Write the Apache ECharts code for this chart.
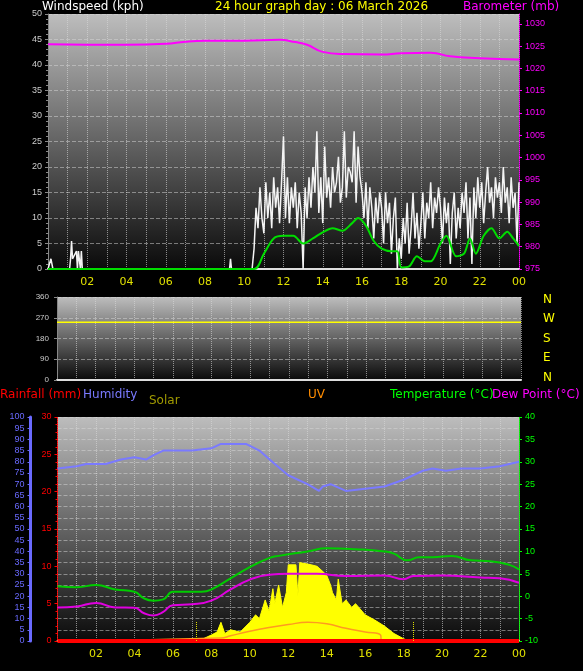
<!DOCTYPE html>
<html>
<head>
<meta charset="utf-8">
<script src="https://cdn.jsdelivr.net/npm/echarts@6/dist/echarts.min.js"></script>
<style>html,body{margin:0;background:#000}#c{width:583px;height:671px}</style>
</head>
<body>
<div id="c"></div>
<script>
// hours of day, wind gusts (kph)
var gustEarlyT = [0, 0.15, 0.2, 0.25, 1.1, 1.15, 1.2, 1.25, 1.3, 1.35, 1.45, 1.5, 1.55, 1.65, 1.7, 1.75, 9.25, 9.3, 9.35, 10.4]
var gustEarlyV = [0, 2, 2, 0, 0, 2, 5.5, 2, 2, 2, 3.5, 0, 3.5, 0, 3.5, 0, 0, 2, 0, 0]
var gustStart = 10.5
var gustStep = 0.1
var gustV = [4,12,8,16,10,
  7,17,10,15,8,18,12,16,9,17,
  26,10,18,9,16,12,17,8,15,11,
  0,16,10,18,12,20,15,27,11,18,
  9,24,14,18,12,20,15,17,22,13,
  16,27,14,20,19,17,27,13,24,18,
  15,10,17,8,16,12,6,14,9,15,
  12,5,15,9,13,3,10,14,0,6,
  2,10,5,13,3,8,15,6,11,4,
  9,15,6,13,10,17,8,14,11,16,
  12,5,14,9,13,1,11,15,6,12,
  8,15,11,17,6,14,1,16,10,18,
  12,17,9,15,20,13,16,10,18,14,
  17,11,20,13,16,9,18,12,15,5,
  17]
var windAvgT = [0, 10.5, 11, 11.5, 12, 12.5, 13, 13.5, 14, 14.5, 15, 15.5, 15.8, 16.2, 16.6, 17, 17.5, 17.8, 18, 18.4, 18.8, 19.2, 19.5, 20, 20.3, 20.8, 21.2, 21.5, 21.8, 22.2, 22.6, 23, 23.4, 23.7, 24]
var windAvgV = [0, 0, 3, 6, 6.5, 6.5, 5, 6, 7.2, 8, 7.5, 9, 10, 8.5, 5.5, 4, 3.5, 3.5, 0.3, 0.5, 2.5, 1.5, 1.5, 5, 6.5, 2.5, 3, 6, 3, 6.5, 8, 6, 7.3, 6, 4.5]
var baroT = [0, 2, 4, 6, 7, 8, 10, 11.8, 12.6, 13.2, 14, 15, 17, 18, 19.5, 20.5, 22, 24]
var baroV = [1025.4, 1025.3, 1025.3, 1025.5, 1026, 1026.2, 1026.2, 1026.4, 1025.9, 1025.3, 1023.7, 1023.2, 1023.1, 1023.4, 1023.5, 1022.7, 1022.3, 1022]
var dirT = [0, 24]
var dirV = [250, 250]
var humT = [0, 1, 1.5, 2.5, 3.3, 4, 4.6, 5, 5.5, 7, 8, 8.5, 9.8, 10.5, 11.3, 12, 13, 13.6, 13.8, 14.2, 15, 16, 17, 18, 19, 19.5, 20.2, 21, 22, 23, 24]
var humV = [77, 78, 79, 79, 81, 82, 81, 83, 85, 85, 86, 88, 88, 85, 79, 74, 70, 67, 69, 70, 67, 68, 69, 72, 76, 77, 76, 77, 77, 78, 80]
var tempT = [0, 1, 2, 3, 4, 4.5, 5, 5.5, 6, 7, 7.5, 8, 9, 10, 11, 11.5, 13, 14, 15.5, 17, 17.5, 18.2, 18.8, 19.5, 20.5, 21.5, 22.5, 23.5, 24]
var tempV = [2.2, 2, 2.5, 1.5, 1, -0.5, -1, -0.7, 1, 1, 1, 1.5, 4, 6.5, 8.5, 9, 10, 10.7, 10.5, 10, 9.5, 8, 8.7, 8.7, 9, 8, 7.8, 7, 6]
var dewT = [0, 1, 2, 3, 4, 4.5, 5, 5.5, 6, 7, 8, 9, 10, 11, 12, 13.5, 15, 17, 18, 18.5, 20, 22, 23, 24]
var dewV = [-2.5, -2.3, -1.5, -2.5, -2.6, -3.8, -4.3, -3.5, -2, -1.8, -1, 1.5, 3.7, 4.8, 5, 5, 4.5, 4.6, 3.8, 4.5, 4.6, 4.2, 4, 3]
var solarT = [0, 7.5, 8, 8.3, 8.5, 8.7, 9, 9.5, 10, 10.3, 10.5, 10.8, 11, 11.2, 11.3, 11.5, 11.7, 11.9, 12, 12.4, 12.5, 12.6, 12.7, 13.2, 13.5, 13.8, 14, 14.2, 14.3, 14.5, 14.6, 14.8, 15, 15.3, 15.5, 16, 16.5, 17, 17.5, 18, 18.3, 24]
var solarV = [0, 0.2, 0.8, 1.2, 2.5, 1, 1.5, 1.2, 2.5, 3.5, 3, 5.5, 4, 7, 5, 7.5, 4.5, 6.5, 10.2, 10.2, 6, 10.5, 10.3, 10.2, 10, 9.3, 8.8, 7.5, 6.5, 5.5, 8.3, 5, 5.5, 4.5, 5, 3.5, 2.8, 2, 1, 0.3, 0, 0]
var uvT = [0, 8.5, 9, 10, 11, 12, 13, 14, 15, 16, 16.8, 16.85, 24]
var uvV = [0, 0.4, 0.7, 1.3, 1.8, 2.2, 2.5, 2.3, 1.7, 1.2, 0.8, 0, 0]
var rainT = [0, 24]
var rainV = [0, 0]
var sunMarks = [7.2, 18.5]
var hourTicks = ['02','04','06','08','10','12','14','16','18','20','22','00']

function pairs(t, v) { return t.map(function (x, i) { return [x, v[i]] }) }
var gustData = pairs(gustEarlyT, gustEarlyV).concat(gustV.map(function (v, i) { return [gustStart + i * gustStep, v] }))

var bg = new echarts.graphic.LinearGradient(0, 0, 0, 1, [
  {offset: 0, color: '#bdbdbd'}, {offset: 1, color: '#0a0a0a'}])
var grids = [
  {left: 48, right: 64, top: 14, height: 255},
  {left: 57, right: 62, top: 297, height: 83},
  {left: 57.5, right: 64, top: 417, height: 224}
]
grids.forEach(function (g) { g.show = true; g.backgroundColor = bg; g.borderWidth = 0 })

function xAx(i, showLabels) {
  return {
    type: 'value', gridIndex: i, min: 0, max: 24, interval: 2,
    axisLine: {show: true, onZero: false, lineStyle: {color: '#ddd', width: 2}},
    axisTick: {show: false},
    minorTick: {show: false, splitNumber: 2},
    splitLine: {show: true, lineStyle: {color: '#d8d8d8', type: 'dotted', opacity: 0.6}},
    minorSplitLine: {show: true, lineStyle: {color: '#d8d8d8', type: 'dotted', opacity: 0.6}},
    axisLabel: {show: showLabels, color: '#e0e000', fontSize: 11, fontFamily: 'DejaVu Sans',
      showMinLabel: false,
      formatter: function (v) { return v === 0 ? '' : hourTicks[v / 2 - 1] }}
  }
}
var plain = function (v) { return String(v) }
var hsplit = {show: true, lineStyle: {color: '#d8d8d8', type: 'dashed', opacity: 0.5}}
var option = {
  backgroundColor: '#000',
  animation: false,
  grid: grids,
  xAxis: [xAx(0, true), xAx(1, false), xAx(2, true)],
  yAxis: [
    {type: 'value', gridIndex: 0, position: 'left', min: 0, max: 50, interval: 5,
      axisLine: {show: true, onZero: false, lineStyle: {color: '#888'}}, axisTick: {show: true, length: 3},
      minorTick: {show: true, splitNumber: 5, length: 2, lineStyle: {color: '#888'}},
      splitLine: hsplit,
      axisLabel: {color: '#ccc', fontSize: 9, margin: 6}},
    {type: 'value', gridIndex: 0, position: 'right', min: 975, max: 1032.2, interval: 5,
      axisLine: {show: true, onZero: false, lineStyle: {color: '#ff00ff', type: 'dotted'}}, axisTick: {show: true, length: 3, lineStyle: {color: '#ff00ff'}},
      splitLine: {show: false}, axisLabel: {color: '#ff00ff', fontSize: 9, margin: 6, showMaxLabel: false, formatter: plain}},
    {type: 'value', gridIndex: 1, position: 'left', min: 0, max: 360, interval: 90,
      axisLine: {show: true, onZero: false, lineStyle: {color: '#888'}}, axisTick: {show: true, length: 3},
      splitLine: hsplit, axisLabel: {color: '#ccc', fontSize: 8, margin: 8}},
    {type: 'value', gridIndex: 2, position: 'left', min: 0, max: 100, interval: 5, offset: 27,
      axisLine: {show: true, onZero: false, lineStyle: {color: '#6a6aff', width: 3}}, axisTick: {show: true, length: 3},
      splitLine: hsplit, axisLabel: {color: '#6a6aff', fontSize: 9, margin: 6}},
    {type: 'value', gridIndex: 2, position: 'left', min: 0, max: 30, interval: 5,
      axisLine: {show: true, onZero: false, lineStyle: {color: '#ff0000', type: 'dotted'}}, axisTick: {show: true, length: 3},
      minorTick: {show: true, splitNumber: 5, length: 2, lineStyle: {color: '#ff0000'}},
      splitLine: {show: false}, axisLabel: {color: '#ff0000', fontSize: 9, margin: 6}},
    {type: 'value', gridIndex: 2, position: 'right', min: -10, max: 40, interval: 5,
      axisLine: {show: true, onZero: false, lineStyle: {color: '#00ff00', type: 'dotted'}}, axisTick: {show: true, length: 3, lineStyle: {color: '#00ff00'}},
      splitLine: {show: false}, axisLabel: {color: '#00ff00', fontSize: 9, margin: 6}}
  ],
  series: [
    {type: 'line', xAxisIndex: 0, yAxisIndex: 1, data: pairs(baroT, baroV), symbol: 'none', smooth: true,
      lineStyle: {color: '#ff00ff', width: 2}},
    {type: 'line', xAxisIndex: 0, yAxisIndex: 0, data: gustData, symbol: 'none',
      lineStyle: {color: '#f4f4f4', width: 1.5}},
    {type: 'line', xAxisIndex: 0, yAxisIndex: 0, data: pairs(windAvgT, windAvgV), symbol: 'none', smooth: 0.3,
      lineStyle: {color: '#00dd00', width: 2}},
    {type: 'line', xAxisIndex: 1, yAxisIndex: 2, data: pairs(dirT, dirV), symbol: 'none',
      lineStyle: {color: '#ffff00', width: 1.5}},
    {type: 'line', xAxisIndex: 2, yAxisIndex: 4, data: pairs(solarT, solarV), symbol: 'none',
      lineStyle: {color: '#ffff00', width: 1}, areaStyle: {color: '#ffff00', opacity: 1},
      markLine: {symbol: 'none', silent: true, label: {show: false},
        lineStyle: {color: '#e0e000', type: 'dotted', width: 1},
        data: sunMarks.map(function (t) { return [{coord: [t, 0]}, {coord: [t, 2.6]}] })}},
    {type: 'line', xAxisIndex: 2, yAxisIndex: 4, data: pairs(uvT, uvV), symbol: 'none', smooth: true,
      lineStyle: {color: '#ff9a20', width: 1.5}},
    {type: 'line', xAxisIndex: 2, yAxisIndex: 3, data: pairs(humT, humV), symbol: 'none',
      lineStyle: {color: '#7a7aff', width: 2}},
    {type: 'line', xAxisIndex: 2, yAxisIndex: 5, data: pairs(tempT, tempV), symbol: 'none', smooth: true,
      lineStyle: {color: '#00cc00', width: 2}},
    {type: 'line', xAxisIndex: 2, yAxisIndex: 5, data: pairs(dewT, dewV), symbol: 'none', smooth: true,
      lineStyle: {color: '#e000e0', width: 2}},
    {type: 'line', xAxisIndex: 2, yAxisIndex: 4, data: pairs(rainT, rainV), symbol: 'none',
      lineStyle: {color: '#ff0000', width: 4}}
  ],
  graphic: [
    {type: 'text', left: 42, top: 1, style: {text: 'Windspeed (kph)', fill: '#fff', font: '12px DejaVu Sans'}},
    {type: 'text', left: 215, top: 1, style: {text: '24 hour graph day : 06 March 2026', fill: '#ffff00', font: '12px DejaVu Sans'}},
    {type: 'text', left: 463, top: 1, style: {text: 'Barometer (mb)', fill: '#ff00ff', font: '12px DejaVu Sans'}},
    {type: 'text', left: 543, top: 290, style: {text: 'N\nW\nS\nE\nN', fill: '#ffff00', font: '12px DejaVu Sans', lineHeight: 19.5}},
    {type: 'text', left: 0, top: 389, style: {text: 'Rainfall (mm)', fill: '#ff0000', font: '12px DejaVu Sans'}},
    {type: 'text', left: 83, top: 389, style: {text: 'Humidity', fill: '#7a7aff', font: '12px DejaVu Sans'}},
    {type: 'text', left: 149, top: 395, style: {text: 'Solar', fill: '#a09a00', font: '12px DejaVu Sans'}},
    {type: 'text', left: 308, top: 389, style: {text: 'UV', fill: '#ff8c00', font: '12px DejaVu Sans'}},
    {type: 'text', left: 390, top: 389, style: {text: 'Temperature (°C)', fill: '#00ff00', font: '12px DejaVu Sans'}},
    {type: 'text', left: 492, top: 389, style: {text: 'Dew Point (°C)', fill: '#ff00ff', font: '12px DejaVu Sans'}}
  ]
}
echarts.init(document.getElementById('c')).setOption(option)
</script>
</body>
</html>
